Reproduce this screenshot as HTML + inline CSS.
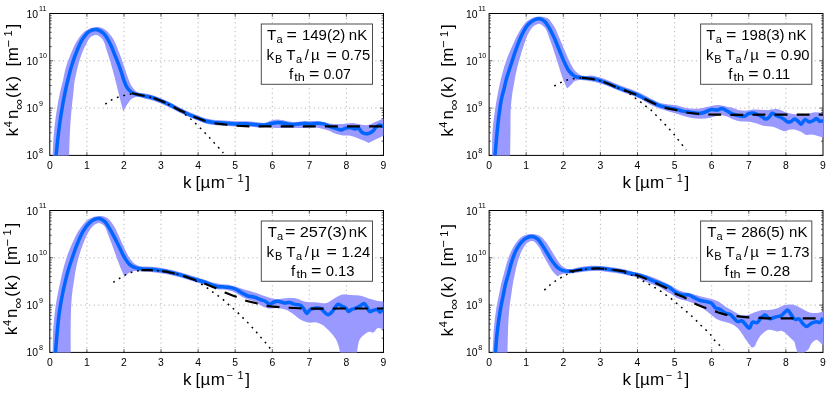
<!DOCTYPE html>
<html><head><meta charset="utf-8"><title>k4 n(k) momentum distributions</title>
<style>html,body{margin:0;padding:0;background:#fff}body{width:830px;height:398px;overflow:hidden;font-family:"Liberation Sans",sans-serif}svg{display:block;will-change:transform}</style></head>
<body>
<svg width="830" height="398" viewBox="0 0 830 398" font-family="'Liberation Sans', sans-serif" fill="#000">
<rect width="830" height="398" fill="#fff"/>
<defs>
<clipPath id="c0"><rect x="49.8" y="13.5" width="334.2" height="142.4"/></clipPath>
<clipPath id="c1"><rect x="489.1" y="13.5" width="334.4" height="142.4"/></clipPath>
<clipPath id="c2"><rect x="49.8" y="210.5" width="334.2" height="142.4"/></clipPath>
<clipPath id="c3"><rect x="489.1" y="210.5" width="334.4" height="142.4"/></clipPath>
</defs>
<g>
<path d="M86.9 155.4V13.5M124 155.4V13.5M161 155.4V13.5M198.1 155.4V13.5M235.2 155.4V13.5M272.3 155.4V13.5M309.3 155.4V13.5M346.4 155.4V13.5M49.8 60.8H383.5M49.8 108.1H383.5" stroke="#606060" stroke-width="0.55" stroke-dasharray="1 3.4" fill="none"/>
<rect x="49.8" y="13.5" width="333.7" height="141.9" fill="none" stroke="#000" stroke-width="1"/>
<path d="M86.9 155.4v-3.3M86.9 13.5v3.3M124 155.4v-3.3M124 13.5v3.3M161 155.4v-3.3M161 13.5v3.3M198.1 155.4v-3.3M198.1 13.5v3.3M235.2 155.4v-3.3M235.2 13.5v3.3M272.3 155.4v-3.3M272.3 13.5v3.3M309.3 155.4v-3.3M309.3 13.5v3.3M346.4 155.4v-3.3M346.4 13.5v3.3M49.8 13.5h3.3M383.5 13.5h-3.3M49.8 46.6h1.9M383.5 46.6h-1.9M49.8 38.2h1.9M383.5 38.2h-1.9M49.8 32.3h1.9M383.5 32.3h-1.9M49.8 27.7h1.9M383.5 27.7h-1.9M49.8 24h1.9M383.5 24h-1.9M49.8 20.8h1.9M383.5 20.8h-1.9M49.8 18.1h1.9M383.5 18.1h-1.9M49.8 15.7h1.9M383.5 15.7h-1.9M49.8 60.8h3.3M383.5 60.8h-3.3M49.8 93.9h1.9M383.5 93.9h-1.9M49.8 85.5h1.9M383.5 85.5h-1.9M49.8 79.6h1.9M383.5 79.6h-1.9M49.8 75h1.9M383.5 75h-1.9M49.8 71.3h1.9M383.5 71.3h-1.9M49.8 68.1h1.9M383.5 68.1h-1.9M49.8 65.4h1.9M383.5 65.4h-1.9M49.8 63h1.9M383.5 63h-1.9M49.8 108.1h3.3M383.5 108.1h-3.3M49.8 141.2h1.9M383.5 141.2h-1.9M49.8 132.8h1.9M383.5 132.8h-1.9M49.8 126.9h1.9M383.5 126.9h-1.9M49.8 122.3h1.9M383.5 122.3h-1.9M49.8 118.6h1.9M383.5 118.6h-1.9M49.8 115.4h1.9M383.5 115.4h-1.9M49.8 112.7h1.9M383.5 112.7h-1.9M49.8 110.3h1.9M383.5 110.3h-1.9M49.8 155.4h3.3M383.5 155.4h-3.3" stroke="#000" stroke-width="0.65" fill="none"/>
<g clip-path="url(#c0)">
<path d="M52.6 155.4C52.9 149 53.1 142.7 53.6 136.3C54.2 128.9 55 121.5 56.1 114.2C57.2 106.8 58.5 99.4 60.1 92.1C61 88 62.2 84.1 63.1 80C63.8 76.8 64.3 73.5 65.1 70.3C66.6 64.5 68.7 58.7 71.1 53.2C73.2 48.4 75.2 43.4 78.2 39.1C80.2 36.2 82.4 33.1 85.2 31.1C87.5 29.4 90.4 28.1 93.2 27.5C94.8 27.2 96.4 26.9 98 27C99.8 27.1 101.7 27.7 103.3 28.5C106.5 30 109 33.3 111.3 36.1C115.2 40.9 117 47.4 119.4 53.2C121.7 58.8 123.4 64.6 125.4 70.3C126.5 73.5 127.4 76.9 128.8 80C129.9 82.6 130.9 85.3 132.6 87.5C133.7 88.9 134.8 90.5 136.3 91.4C137.4 92.1 138.7 92.6 140 92.9C141.6 93.3 143.3 93.2 145 93.5C147.5 93.9 150.1 94.4 152.5 95.2C155.1 95.9 157.6 97 160.1 98C162.6 99 165.1 100.1 167.6 101.3C170.1 102.5 172.6 103.8 175.1 105.1C177.6 106.4 180.1 107.7 182.7 109C185.2 110.1 187.7 111.3 190.2 112.4C192.7 113.5 195.2 114.4 197.7 115.4C200.2 116.4 202.7 117.6 205.3 118.3C207.7 119 210.3 119.3 212.8 119.7C215.3 120 217.8 120.1 220.3 120.3C222.8 120.5 225.4 120.6 227.9 120.8C230.4 121 232.9 121.2 235.4 121.3C237.9 121.4 240.4 121.1 242.9 121.2C245.4 121.2 248 121.4 250.5 121.5C253 121.7 255.5 122 258 122.2C260.4 122.4 263 123.2 265.3 122.8C267.1 122.5 268.7 121.2 270.4 120.7C272.8 120 275.4 119.5 277.9 119.5C280.4 119.5 282.9 120.3 285.4 120.7C287.9 121.1 290.5 121.8 293 122C296.2 122.2 299.4 121.5 302.6 121.4C306.8 121.2 311 120.9 315.1 121.1C318.5 121.3 321.9 121.9 325.2 122.4C328.1 122.9 331 123.8 334 124.1C336.9 124.4 339.9 124.2 342.8 124.1C346.1 123.9 349.5 122.8 352.8 123C355.3 123.2 357.8 124.1 360.4 124.5C362.9 124.8 365.5 125.5 367.9 125.1C370.5 124.7 372.9 123 375.4 122C378.1 120.9 380.7 119.7 383.4 118.6L383.4 135.8C380.7 137.1 378.1 138.3 375.4 139.6C373.1 140.7 370.8 141.9 368.5 143C367 142.3 365.6 141.5 364.1 140.8C362 139.9 359.9 139.1 357.8 138.3C355.3 137.4 352.9 136.3 350.3 135.8C347.9 135.3 345.3 135.8 342.8 135.4C340.7 135.1 338.6 134.5 336.5 133.9C333.5 133 330.7 131.2 327.7 130.2C324.8 129.2 321.9 128.4 318.9 127.9C313.6 127 308 127.9 302.6 127.9C297.7 127.9 292.9 127.9 288 127.9C283.8 127.9 279.6 128.1 275.4 127.9C272 127.8 268.7 127.1 265.3 127.1C262.9 127.1 260.4 127.5 258 127.4C255.5 127.4 253 126.9 250.5 126.7C248 126.6 245.4 126.4 242.9 126.4C240.4 126.3 237.9 126.6 235.4 126.5C232.9 126.4 230.4 126.2 227.9 126C225.4 125.8 222.8 125.7 220.3 125.5C217.8 125.3 215.3 125.2 212.8 124.9C210.3 124.5 207.7 124.2 205.3 123.5C202.7 122.8 200.2 121.6 197.7 120.6C195.2 119.6 192.7 118.7 190.2 117.6C187.7 116.5 185.2 115.3 182.7 114.1C180.1 112.9 177.6 111.6 175.1 110.3C172.6 109 170.1 107.7 167.6 106.5C165.1 105.3 162.6 104.2 160.1 103.2C157.6 102.2 155.1 101.1 152.5 100.4C150.1 99.6 147.5 99.4 145 98.7C143.7 98.3 142.4 97.7 141 97.4C139.9 97.1 138.7 96.7 137.6 96.7C135.9 96.7 134.1 97.4 132.6 98.2C130.5 99.4 129 101.9 127.5 103.9C125.8 106.2 124.6 109 123.2 111.5C121.9 106.3 120.6 101.2 119.3 96C118 90.7 116.7 85.3 115.3 80C114.6 77.4 114 74.9 113.3 72.3C111.5 65.6 109.7 58.7 107.3 52.2C105.5 47.4 105 41.4 101.3 38.1C100 36.9 98.4 35.4 96.8 35.1C95.4 34.9 93.5 35.5 92.2 36.1C89.3 37.4 87.9 41.3 86.2 44.2C83.6 48.5 81.9 53.4 80.2 58.2C78.2 64.1 77 70.2 75.6 76.3C75.3 77.5 75 78.8 74.8 80C74 84 73.9 88.1 73.5 92.1C72.7 99.5 71.7 106.8 71.1 114.2C70.5 121.6 70 128.9 69.7 136.3C69.4 142.7 69.3 149 69.1 155.4Z" fill="#9999ff"/>
<path d="M56.1 155.4C56.8 149 57.3 142.7 58.1 136.3C59 128.9 59.9 121.5 61.1 114.2C62.3 106.8 63.6 99.4 65.1 92.1C66 87.7 67 83.3 68.1 79C69.3 74.1 70.6 69.1 72.1 64.3C73.6 59.5 75.2 54.8 77.2 50.2C79 46.1 80.6 41.7 83.2 38.1C84.9 35.7 86.7 32.9 89.2 31.5C91.2 30.3 93.9 29.3 96.2 29.5C98.7 29.7 101.3 31.5 103.3 33.1C106 35.3 107.5 39 109.3 42.2C111.8 46.6 113.4 51.5 115.3 56.2C117.5 61.5 119.6 66.9 121.4 72.3C122.2 74.8 122.9 77.5 123.8 80C124.9 82.8 125.7 85.9 127.5 88.3C128.9 90.1 130.6 91.9 132.6 93C134.4 94 136.7 94.3 138.8 94.8C140.9 95.3 143 95.7 145.1 96.1C147.6 96.6 150.2 97.1 152.7 97.8C155.7 98.7 158.6 99.9 161.5 101.1C164.5 102.3 167.4 103.7 170.3 105.1C173.3 106.6 176.1 108.3 179 109.8C181.9 111.3 184.8 112.7 187.8 114C190.7 115.3 193.7 116.4 196.6 117.6C199.5 118.8 202.4 120.2 205.4 121C208.3 121.8 211.3 122.1 214.2 122.5C217.8 122.9 221.5 123 225.1 123.2C228.5 123.4 231.8 123.8 235.2 123.9C239 124 242.7 123.5 246.5 123.7C249.8 123.9 253.2 124.6 256.5 124.8C259.4 125 262.4 125.3 265.3 125C267.9 124.7 270.3 123.7 272.9 123.2C274.6 122.9 276.2 122.5 277.9 122.4C280.4 122.3 282.9 123.3 285.4 123.6C288.3 124 291.3 124.7 294.2 124.5C295.3 124.4 296.4 124.2 297.5 124.1C300 123.8 302.6 123 305.1 123.2C306.8 123.3 308.4 124 310.1 124.1C312.6 124.2 315.1 123.2 317.6 123.2C319.7 123.2 321.9 123.4 323.9 123.9C326.1 124.5 328.1 125.8 330.2 126.6C332.3 127.4 334.4 128 336.5 128.6C338.2 129.1 339.9 130.1 341.5 129.9C342.8 129.8 344 128.7 345.3 128.3C346.9 127.8 348.7 127.5 350.3 127.6C352 127.7 353.6 128.9 355.3 128.9C356.4 128.9 357.6 128.1 358.5 128.3C359.9 128.6 360.3 131.1 361.6 132C362.7 132.8 364.1 133.5 365.4 133.7C366.6 133.9 367.9 133.6 369.1 133.3C370.5 132.9 371.8 132.1 372.9 131.2C374.2 130.1 374.8 128.1 376.1 127C377 126.2 378.1 125.3 379.2 125.1C380.5 124.9 382 126 383.4 126.4" fill="none" stroke="#0066ff" stroke-width="3.5" stroke-linejoin="round"/>
<path d="M105.3 104.1C107.3 102.8 109.2 101.2 111.3 100.1C113.2 99.1 115.3 98.3 117.3 97.5C119.9 96.5 122.7 95.7 125.4 95.1C128 94.5 130.7 93.9 133.4 93.9C135.6 93.9 137.8 94.2 140 94.6C141.7 94.9 143.4 95.5 145.1 96C147.6 96.7 150.2 97.2 152.7 98C155.7 98.9 158.6 100.1 161.5 101.3C164.5 102.6 167.4 104 170.3 105.5C173.3 107 176.2 108.6 179 110.4C181.3 111.8 183.5 113.4 185.7 115C187.4 116.3 189.1 117.6 190.7 119C192.4 120.5 194.1 122 195.7 123.6C197.3 125.1 198.8 126.7 200.4 128.2C202 129.8 203.5 131.4 205.1 133C206.7 134.6 208.3 136.2 209.8 137.9C211.3 139.5 212.7 141.3 214.2 142.9C215.7 144.5 217.2 146.1 218.7 147.7C220.3 149.4 221.8 151.2 223.3 153" fill="none" stroke="#000" stroke-width="1.5" stroke-dasharray="1.8 4.85" stroke-dashoffset="0"/>
<path d="M131.9 93.2C134.2 93.7 136.5 94.3 138.8 94.8C140.9 95.3 143 95.7 145.1 96.1C147.6 96.6 150.2 97.1 152.7 97.8C155.7 98.7 158.6 99.9 161.5 101.1C164.5 102.3 167.4 103.7 170.3 105.1C173.3 106.6 176.1 108.3 179 109.8C181.9 111.3 184.8 112.7 187.8 114C190.7 115.3 193.6 116.6 196.6 117.8C199.5 119 202.4 120.1 205.4 121C208.3 121.9 211.2 122.6 214.2 123.2C217.8 123.9 221.4 124.1 225 124.5C228.3 124.9 231.7 125.3 235 125.6C238.3 125.9 241.7 126.1 245 126.2C250 126.4 255 126.4 260 126.4C273.3 126.5 286.7 126.4 300 126.4C327.8 126.4 355.6 126.4 383.4 126.4" fill="none" stroke="#000" stroke-width="2.2" stroke-dasharray="12.9 9.2" stroke-dashoffset="0"/>
</g>
<g font-size="10.4">
<text x="49.8" y="168.6" text-anchor="middle">0</text>
<text x="86.9" y="168.6" text-anchor="middle">1</text>
<text x="124" y="168.6" text-anchor="middle">2</text>
<text x="161" y="168.6" text-anchor="middle">3</text>
<text x="198.1" y="168.6" text-anchor="middle">4</text>
<text x="235.2" y="168.6" text-anchor="middle">5</text>
<text x="272.3" y="168.6" text-anchor="middle">6</text>
<text x="309.3" y="168.6" text-anchor="middle">7</text>
<text x="346.4" y="168.6" text-anchor="middle">8</text>
<text x="383.5" y="168.6" text-anchor="middle">9</text>
<text x="26.6" y="17.5">10<tspan font-size="7.2" dy="-6.5" dx="0.9">11</tspan></text>
<text x="26.6" y="64.8">10<tspan font-size="7.2" dy="-6.5" dx="0.9">10</tspan></text>
<text x="26.6" y="112.1">10<tspan font-size="7.2" dy="-6.5" dx="0.9">9</tspan></text>
<text x="26.6" y="159.4">10<tspan font-size="7.2" dy="-6.5" dx="0.9">8</tspan></text>
</g>
<g font-size="17">
<text x="183" y="188">k</text>
<text x="195.5" y="188">[</text>
<text x="200.5" y="188">µ</text>
<text x="210.7" y="188">m</text>
<text x="226.4" y="181.7" font-size="11">−</text>
<text x="237.4" y="181.7" font-size="11">1</text>
<text x="245.2" y="188">]</text>
</g>
<text transform="translate(18 136.4) rotate(-90)" font-size="17">k</text>
<text transform="translate(12.1 127.2) rotate(-90)" font-size="11">4</text>
<text transform="translate(18 119.1) rotate(-90)" font-size="17">n</text>
<text transform="translate(23.2 109.7) rotate(-90)" font-size="13" textLength="10.9" lengthAdjust="spacingAndGlyphs">∞</text>
<text transform="translate(18 97.9) rotate(-90)" font-size="17">(</text>
<text transform="translate(18 91.5) rotate(-90)" font-size="17">k</text>
<text transform="translate(18 81.4) rotate(-90)" font-size="17">)</text>
<text transform="translate(18 66.4) rotate(-90)" font-size="17">[</text>
<text transform="translate(18 61.2) rotate(-90)" font-size="17">m</text>
<text transform="translate(13 47.6) rotate(-90)" font-size="12.5">−</text>
<text transform="translate(12.4 36.6) rotate(-90)" font-size="11">1</text>
<text transform="translate(18 28.6) rotate(-90)" font-size="17">]</text>
<rect x="261.3" y="24" width="111.2" height="60.3" fill="#fff" stroke="#4d4d4d" stroke-width="1"/>
<g font-size="15">
<text x="266.9" y="40.1">T</text>
<text x="276.5" y="42.5" font-size="11">a</text>
<text x="286.6" y="40.1" textLength="10.4" lengthAdjust="spacingAndGlyphs">=</text>
<text x="301.9" y="40.1" textLength="43.4" lengthAdjust="spacingAndGlyphs">149(2)</text>
<text x="348.8" y="40.1">nK</text>
<text x="266.6" y="60.4">k</text>
<text x="274.9" y="62.8" font-size="11">B</text>
<text x="286.2" y="60.4">T</text>
<text x="296.1" y="62.8" font-size="11">a</text>
<text x="304.8" y="60.4">/</text>
<text x="310.9" y="60.4">µ</text>
<text x="326.6" y="60.4" textLength="10.4" lengthAdjust="spacingAndGlyphs">=</text>
<text x="341.5" y="60.4" textLength="28.8" lengthAdjust="spacingAndGlyphs">0.75</text>
<text x="288.9" y="78.8">f</text>
<text x="294.3" y="81.2" font-size="11" textLength="10.6" lengthAdjust="spacingAndGlyphs">th</text>
<text x="308.9" y="78.8" textLength="10.4" lengthAdjust="spacingAndGlyphs">=</text>
<text x="323.5" y="78.8" textLength="27.4" lengthAdjust="spacingAndGlyphs">0.07</text>
</g>
</g>
<g>
<path d="M526.2 155.4V13.5M563.3 155.4V13.5M600.4 155.4V13.5M637.5 155.4V13.5M674.6 155.4V13.5M711.7 155.4V13.5M748.8 155.4V13.5M785.9 155.4V13.5M489.1 60.8H823M489.1 108.1H823" stroke="#606060" stroke-width="0.55" stroke-dasharray="1 3.4" fill="none"/>
<rect x="489.1" y="13.5" width="333.9" height="141.9" fill="none" stroke="#000" stroke-width="1"/>
<path d="M526.2 155.4v-3.3M526.2 13.5v3.3M563.3 155.4v-3.3M563.3 13.5v3.3M600.4 155.4v-3.3M600.4 13.5v3.3M637.5 155.4v-3.3M637.5 13.5v3.3M674.6 155.4v-3.3M674.6 13.5v3.3M711.7 155.4v-3.3M711.7 13.5v3.3M748.8 155.4v-3.3M748.8 13.5v3.3M785.9 155.4v-3.3M785.9 13.5v3.3M489.1 13.5h3.3M823 13.5h-3.3M489.1 46.6h1.9M823 46.6h-1.9M489.1 38.2h1.9M823 38.2h-1.9M489.1 32.3h1.9M823 32.3h-1.9M489.1 27.7h1.9M823 27.7h-1.9M489.1 24h1.9M823 24h-1.9M489.1 20.8h1.9M823 20.8h-1.9M489.1 18.1h1.9M823 18.1h-1.9M489.1 15.7h1.9M823 15.7h-1.9M489.1 60.8h3.3M823 60.8h-3.3M489.1 93.9h1.9M823 93.9h-1.9M489.1 85.5h1.9M823 85.5h-1.9M489.1 79.6h1.9M823 79.6h-1.9M489.1 75h1.9M823 75h-1.9M489.1 71.3h1.9M823 71.3h-1.9M489.1 68.1h1.9M823 68.1h-1.9M489.1 65.4h1.9M823 65.4h-1.9M489.1 63h1.9M823 63h-1.9M489.1 108.1h3.3M823 108.1h-3.3M489.1 141.2h1.9M823 141.2h-1.9M489.1 132.8h1.9M823 132.8h-1.9M489.1 126.9h1.9M823 126.9h-1.9M489.1 122.3h1.9M823 122.3h-1.9M489.1 118.6h1.9M823 118.6h-1.9M489.1 115.4h1.9M823 115.4h-1.9M489.1 112.7h1.9M823 112.7h-1.9M489.1 110.3h1.9M823 110.3h-1.9M489.1 155.4h3.3M823 155.4h-3.3" stroke="#000" stroke-width="0.65" fill="none"/>
<g clip-path="url(#c1)">
<path d="M492 155.4C492.2 147 492 138.6 492.6 130.2C493.1 123.5 494 116.8 495 110.1C495.9 104.1 496.9 98.1 498.1 92.1C498.9 88.1 499.8 84 500.7 80C501.1 78.1 501.6 76.2 502.1 74.3C503.5 68.9 505.1 63.5 507.1 58.2C508.9 53.4 511 48.8 513.1 44.2C515.3 39.4 517.3 34.5 520.2 30.1C522.3 26.9 524.3 23.4 527.2 21.1C529.2 19.5 531.7 18 534.2 17.2C536.1 16.6 538.3 16.3 540.3 16.4C542.7 16.5 545.3 16.9 547.3 18C549.9 19.4 551.6 22.6 553.3 25.1C556 29 557.4 33.7 559.4 38.1C561.5 42.8 563.3 47.5 565.4 52.2C567 55.9 568.5 59.7 570.4 63.3C571.9 66.1 573.2 69.1 575.4 71.3C576.9 72.8 578.6 74.2 580.5 75C582.2 75.7 584.2 75.9 586 75.9C587.7 75.9 589.3 75.3 591 75.4C593.6 75.4 596.2 76.4 598.7 77.1C601.3 77.9 603.9 78.8 606.4 79.7C609 80.7 611.6 81.8 614.1 82.9C616.7 83.9 619.3 84.9 621.9 85.9C624.4 86.9 627 87.7 629.6 88.7C632.2 89.7 634.8 90.6 637.3 91.7C639.9 92.9 642.5 94.2 645 95.5C646.7 96.4 648.3 97.3 650 98.2C654.1 100.3 658.2 102.5 662.6 103.6C666.6 104.7 671 104.4 675.1 105.1C679.3 105.9 683.4 107.6 687.7 108.2C691.8 108.8 696.2 109.1 700.3 108.6C703.2 108.2 706.1 107.2 709 106.6C711.9 106 714.9 105.1 717.8 105.1C721.2 105.1 724.5 106.4 727.9 107C729.4 107.3 730.9 107.4 732.3 107.8C734.5 108.3 736.4 109.6 738.6 110.1C740.6 110.5 742.7 110.7 744.8 110.7C747.7 110.7 750.7 109.7 753.6 109.5C757.8 109.2 762 110.2 766.2 110.1C770 110 773.9 108.5 777.5 109.1C780.5 109.6 783.3 111.7 786.3 112.6C789.6 113.6 793 114.3 796.4 114.5C799.7 114.7 803.1 114.4 806.4 113.9C808.9 113.6 811.4 112.6 813.9 112.4C817 112.2 820.2 112.9 823.4 113.2L823.4 137.7C821.5 137.1 819.6 136.4 817.7 135.9C815.6 135.4 813.5 134.7 811.4 134.6C809.7 134.5 808 135.3 806.4 135C804.6 134.6 803.1 133 801.4 132.1C799.8 131.3 798.1 130.3 796.4 129.9C794.4 129.4 792.1 129.3 790.1 129.6C788.4 129.8 786.7 131.2 785 131.2C783.8 131.2 782.5 130.6 781.3 130.2C778.7 129.4 776.3 127.9 773.7 127.1C770.1 126 766.1 126.2 762.4 125.4C758.6 124.5 755 122.6 751.1 122C747.8 121.5 744.4 121.9 741.1 121.4C738.5 121 735.9 120.4 733.5 119.5C731.6 118.8 729.8 117.4 727.9 116.7C725.5 115.8 722.9 115.2 720.4 115.2C717 115.2 713.7 117.1 710.3 117.7C707 118.3 703.6 118.7 700.3 118.7C696.1 118.7 691.8 117.9 687.7 117C683.4 116.1 679.3 114.6 675.1 113.3C670.9 112.1 666.7 110.9 662.6 109.5C658.3 108 654 106.7 650 104.5C648.3 103.6 646.7 102.4 645 101.4C642.5 100 639.9 98.8 637.3 97.6C634.8 96.5 632.2 95.6 629.6 94.6C627 93.6 624.4 92.8 621.9 91.8C619.3 90.8 616.7 89.8 614.1 88.8C611.6 87.7 609 86.6 606.4 85.6C603.9 84.7 601.3 83.8 598.7 83C596.2 82.3 593.6 81.8 591 81.3C589.3 80.9 587.7 80.6 586 80.4C584.2 80.2 582.3 79.8 580.5 79.9C578.8 80 576.9 80.1 575.4 80.8C573.8 81.5 572.7 83.2 571.4 84.4C569.9 85.7 568.5 87.1 567 88.4C565.8 85.7 564.5 83 563.4 80.3C561.8 76.4 560.7 72.3 559.4 68.3C557.7 62.9 556.1 57.5 554.3 52.2C552.7 47.5 551.2 42.7 549.3 38.1C547.8 34.4 547.1 29.8 544.3 27.1C542.9 25.7 541.1 23.9 539.3 23.7C537.7 23.6 535.7 24.7 534.2 25.7C532 27.1 530.6 29.8 529.2 32.1C526.9 35.8 525.7 40.1 524.2 44.2C522.3 49.4 520.7 54.8 519.2 60.2C517.7 65.5 516.3 70.9 515.3 76.3C515.1 77.5 514.9 78.8 514.7 80C514 84 513.1 88 512.5 92.1C511.6 98.1 511 104.1 510.7 110.1C510.3 116.8 510.6 123.5 510.5 130.2C510.4 138.6 510.2 147 510.1 155.4Z" fill="#9999ff"/>
<path d="M495 155.4C495.6 149 496.1 142.7 496.7 136.3C497.4 128.9 498.1 121.5 499.1 114.2C499.9 108.1 500.6 102 502.1 96.1C502.6 94.1 503.3 92 503.8 90C504.8 86.1 505.5 82.2 506.6 78.3C507.9 73.6 509.6 69 511.1 64.3C512.7 59.3 514.3 54.2 516.1 49.2C518 44.1 519.7 38.9 522.2 34.1C524 30.8 525.6 27.1 528.2 24.5C529.9 22.8 531.9 21 534.2 20C535.8 19.3 537.7 18.6 539.3 18.8C541 19 542.9 20.1 544.3 21.1C546.5 22.7 547.8 25.7 549.3 28.1C551.2 31.3 552.7 34.7 554.3 38.1C556.1 42.1 557.7 46.2 559.4 50.2C561.1 54.2 562.5 58.4 564.4 62.3C565.9 65.4 567.2 68.9 569.4 71.5C570.9 73.3 572.7 75.1 574.7 76.2C576.8 77.3 579.5 77.4 582 77.8C585.1 78.3 588.3 78.1 591.4 78.6C594.4 79.1 597.3 79.8 600.2 80.7C603.1 81.6 606 82.7 608.9 83.8C611.9 85 614.7 86.4 617.7 87.6C620.6 88.8 623.6 89.7 626.5 90.8C629.4 91.8 632.4 92.7 635.3 93.9C638.3 95.2 641.1 96.9 644.1 98.3C647 99.7 650 100.9 652.9 102.4C654.4 103.2 655.9 104.1 657.5 104.8C660.3 106 663.3 106.7 666.3 107.4C669.2 108.1 672.2 108.2 675.1 108.9C677.7 109.5 680.1 110.5 682.7 111.1C685.6 111.7 688.6 112 691.5 112.4C694.4 112.8 697.4 113.7 700.3 113.3C702 113.1 703.7 112.5 705.3 112C707.4 111.3 709.4 109.7 711.6 109.5C713.2 109.4 715 110.2 716.6 110.1C718.5 110 720.4 108.4 722.2 108.6C723.7 108.8 725.1 110 726.6 110.8C728.5 111.8 730.3 113.1 732.3 113.9C734.7 114.9 737.3 115.5 739.8 115.8C741.4 116 743.3 116.5 744.8 116.1C746.2 115.7 747.2 114.1 748.6 113.6C749.8 113.2 751.1 113 752.4 113C754.1 113.1 755.8 113.9 757.4 114.5C759.1 115.2 760.8 116.1 762.4 117C763.5 117.6 764.5 119 765.6 119.1C766.8 119.2 768.2 117.9 769.3 117C770.5 116 771 113.3 772.2 113.2C773.2 113.1 774.4 114.5 775.6 115.1C777 115.8 778.6 116.3 780 117C781.5 117.7 783 118.6 784.4 119.5C785.5 120.3 786.4 121.7 787.6 122C788.7 122.3 790.2 121.9 791.3 121.4C792.5 120.9 793.4 119 794.5 118.9C795.7 118.8 797.1 120.5 798.2 121.4C799.2 122.2 800.2 124 801.1 124.2C802.5 124.4 803.5 119.6 805.1 119.5C806.4 119.4 808 121.9 809.5 122C810.9 122.1 812.5 120.9 813.9 120.2C814.8 119.7 815.7 118.6 816.5 118.6C817.6 118.6 818.4 120.9 819.6 121.2C820.6 121.4 821.8 120.9 822.9 120.8" fill="none" stroke="#0066ff" stroke-width="3.5" stroke-linejoin="round"/>
<path d="M554.3 86C556.3 84.9 558.3 83.8 560.4 82.8C562.4 81.9 564.3 81 566.4 80.3C568.7 79.6 571 79.1 573.4 78.7C576.1 78.2 578.8 77.7 581.5 77.7C584.8 77.6 588.1 78.2 591.4 78.8C594.4 79.3 597.3 80 600.2 80.9C603.1 81.8 606 82.9 608.9 84C611.9 85.2 614.8 86.5 617.7 87.8C620.6 89.1 623.7 90.1 626.5 91.7C627.9 92.5 629.2 93.4 630.5 94.3C632 95.4 633.3 96.6 634.7 97.7C636.6 99.1 638.5 100.4 640.4 101.8C642.1 103.1 643.7 104.5 645.4 105.8C647.2 107.2 649 108.4 650.7 109.9C652.3 111.3 653.8 113 655.3 114.5C656.9 116.1 658.5 117.7 660.1 119.3C661.7 120.9 663.2 122.5 664.7 124.1C666.3 125.8 667.8 127.4 669.3 129.1C670.8 130.8 672.3 132.4 673.7 134.1C675.1 135.8 676.5 137.6 677.9 139.4C679.3 141.2 680.7 142.9 682.1 144.7C683.5 146.5 684.8 148.3 686.2 150.1" fill="none" stroke="#000" stroke-width="1.5" stroke-dasharray="1.8 4.85" stroke-dashoffset="0"/>
<path d="M582 77.8C585.1 78.1 588.3 78.3 591.4 78.8C594.4 79.3 597.3 80 600.2 80.9C603.1 81.8 606 82.9 608.9 84C611.9 85.2 614.7 86.6 617.7 87.8C620.6 89 623.6 89.9 626.5 91C629.4 92.1 632.4 93.1 635.3 94.3C638.3 95.6 641.2 97.2 644.1 98.7C647 100.1 649.9 101.7 652.9 103C656.5 104.6 660.1 106.2 663.8 107.4C667.9 108.7 672.2 109.1 676.4 110.1C679.5 110.8 682.6 111.8 685.8 112.4C689.9 113.2 694.2 113.4 698.4 113.8C701.6 114.1 704.8 114.3 708 114.5C712 114.7 716 114.6 720 114.7C736.7 114.9 753.3 114.7 770 114.7C787.7 114.7 805.3 114.7 823 114.7" fill="none" stroke="#000" stroke-width="2.2" stroke-dasharray="12.9 9.2" stroke-dashoffset="0"/>
</g>
<g font-size="10.4">
<text x="489.1" y="168.6" text-anchor="middle">0</text>
<text x="526.2" y="168.6" text-anchor="middle">1</text>
<text x="563.3" y="168.6" text-anchor="middle">2</text>
<text x="600.4" y="168.6" text-anchor="middle">3</text>
<text x="637.5" y="168.6" text-anchor="middle">4</text>
<text x="674.6" y="168.6" text-anchor="middle">5</text>
<text x="711.7" y="168.6" text-anchor="middle">6</text>
<text x="748.8" y="168.6" text-anchor="middle">7</text>
<text x="785.9" y="168.6" text-anchor="middle">8</text>
<text x="823" y="168.6" text-anchor="middle">9</text>
<text x="465.9" y="17.5">10<tspan font-size="7.2" dy="-6.5" dx="0.9">11</tspan></text>
<text x="465.9" y="64.8">10<tspan font-size="7.2" dy="-6.5" dx="0.9">10</tspan></text>
<text x="465.9" y="112.1">10<tspan font-size="7.2" dy="-6.5" dx="0.9">9</tspan></text>
<text x="465.9" y="159.4">10<tspan font-size="7.2" dy="-6.5" dx="0.9">8</tspan></text>
</g>
<g font-size="17">
<text x="622.4" y="188">k</text>
<text x="634.9" y="188">[</text>
<text x="639.9" y="188">µ</text>
<text x="650.1" y="188">m</text>
<text x="665.8" y="181.7" font-size="11">−</text>
<text x="676.8" y="181.7" font-size="11">1</text>
<text x="684.6" y="188">]</text>
</g>
<text transform="translate(453.2 136.8) rotate(-90)" font-size="17">k</text>
<text transform="translate(447.3 127.7) rotate(-90)" font-size="11">4</text>
<text transform="translate(453.2 119.5) rotate(-90)" font-size="17">n</text>
<text transform="translate(458.4 110.2) rotate(-90)" font-size="13" textLength="10.9" lengthAdjust="spacingAndGlyphs">∞</text>
<text transform="translate(453.2 98.3) rotate(-90)" font-size="17">(</text>
<text transform="translate(453.2 92) rotate(-90)" font-size="17">k</text>
<text transform="translate(453.2 81.8) rotate(-90)" font-size="17">)</text>
<text transform="translate(453.2 66.8) rotate(-90)" font-size="17">[</text>
<text transform="translate(453.2 61.7) rotate(-90)" font-size="17">m</text>
<text transform="translate(448.2 48) rotate(-90)" font-size="12.5">−</text>
<text transform="translate(447.6 37) rotate(-90)" font-size="11">1</text>
<text transform="translate(453.2 29) rotate(-90)" font-size="17">]</text>
<rect x="700.6" y="24" width="111.2" height="60.3" fill="#fff" stroke="#4d4d4d" stroke-width="1"/>
<g font-size="15">
<text x="706.2" y="40.1">T</text>
<text x="715.8" y="42.5" font-size="11">a</text>
<text x="725.9" y="40.1" textLength="10.4" lengthAdjust="spacingAndGlyphs">=</text>
<text x="741.2" y="40.1" textLength="43.4" lengthAdjust="spacingAndGlyphs">198(3)</text>
<text x="788.1" y="40.1">nK</text>
<text x="705.9" y="60.4">k</text>
<text x="714.2" y="62.8" font-size="11">B</text>
<text x="725.5" y="60.4">T</text>
<text x="735.4" y="62.8" font-size="11">a</text>
<text x="744.1" y="60.4">/</text>
<text x="750.2" y="60.4">µ</text>
<text x="765.9" y="60.4" textLength="10.4" lengthAdjust="spacingAndGlyphs">=</text>
<text x="780.8" y="60.4" textLength="28.8" lengthAdjust="spacingAndGlyphs">0.90</text>
<text x="728.2" y="78.8">f</text>
<text x="733.6" y="81.2" font-size="11" textLength="10.6" lengthAdjust="spacingAndGlyphs">th</text>
<text x="748.2" y="78.8" textLength="10.4" lengthAdjust="spacingAndGlyphs">=</text>
<text x="762.8" y="78.8" textLength="27.4" lengthAdjust="spacingAndGlyphs">0.11</text>
</g>
</g>
<g>
<path d="M86.9 352.4V210.5M124 352.4V210.5M161 352.4V210.5M198.1 352.4V210.5M235.2 352.4V210.5M272.3 352.4V210.5M309.3 352.4V210.5M346.4 352.4V210.5M49.8 257.8H383.5M49.8 305.1H383.5" stroke="#606060" stroke-width="0.55" stroke-dasharray="1 3.4" fill="none"/>
<rect x="49.8" y="210.5" width="333.7" height="141.9" fill="none" stroke="#000" stroke-width="1"/>
<path d="M86.9 352.4v-3.3M86.9 210.5v3.3M124 352.4v-3.3M124 210.5v3.3M161 352.4v-3.3M161 210.5v3.3M198.1 352.4v-3.3M198.1 210.5v3.3M235.2 352.4v-3.3M235.2 210.5v3.3M272.3 352.4v-3.3M272.3 210.5v3.3M309.3 352.4v-3.3M309.3 210.5v3.3M346.4 352.4v-3.3M346.4 210.5v3.3M49.8 210.5h3.3M383.5 210.5h-3.3M49.8 243.6h1.9M383.5 243.6h-1.9M49.8 235.2h1.9M383.5 235.2h-1.9M49.8 229.3h1.9M383.5 229.3h-1.9M49.8 224.7h1.9M383.5 224.7h-1.9M49.8 221h1.9M383.5 221h-1.9M49.8 217.8h1.9M383.5 217.8h-1.9M49.8 215.1h1.9M383.5 215.1h-1.9M49.8 212.7h1.9M383.5 212.7h-1.9M49.8 257.8h3.3M383.5 257.8h-3.3M49.8 290.9h1.9M383.5 290.9h-1.9M49.8 282.5h1.9M383.5 282.5h-1.9M49.8 276.6h1.9M383.5 276.6h-1.9M49.8 272h1.9M383.5 272h-1.9M49.8 268.3h1.9M383.5 268.3h-1.9M49.8 265.1h1.9M383.5 265.1h-1.9M49.8 262.4h1.9M383.5 262.4h-1.9M49.8 260h1.9M383.5 260h-1.9M49.8 305.1h3.3M383.5 305.1h-3.3M49.8 338.2h1.9M383.5 338.2h-1.9M49.8 329.8h1.9M383.5 329.8h-1.9M49.8 323.9h1.9M383.5 323.9h-1.9M49.8 319.3h1.9M383.5 319.3h-1.9M49.8 315.6h1.9M383.5 315.6h-1.9M49.8 312.4h1.9M383.5 312.4h-1.9M49.8 309.7h1.9M383.5 309.7h-1.9M49.8 307.3h1.9M383.5 307.3h-1.9M49.8 352.4h3.3M383.5 352.4h-3.3" stroke="#000" stroke-width="0.65" fill="none"/>
<g clip-path="url(#c2)">
<path d="M52.6 352.5C52.9 344.1 52.8 335.6 53.4 327.2C53.9 320.5 54.5 313.8 55.5 307.1C56.4 301.1 57.4 295.1 58.7 289.1C59 287.7 59.3 286.4 59.6 285C60.6 280.7 61.4 276.3 62.5 272C64.1 265.7 65.8 259.3 68.1 253.2C69.9 248.4 71.8 243.7 74.1 239.2C76.2 235 78.4 230.8 81.2 227.1C83.3 224.4 85.4 221.4 88.2 219.5C90.3 218.1 92.8 217 95.2 216.5C97.2 216.1 99.3 215.9 101.3 216.1C103.4 216.4 105.6 217.1 107.3 218.1C109.8 219.6 111.5 222.6 113.3 225.1C115.9 228.8 117.4 233.1 119.4 237.2C121.5 241.5 123.2 246 125.4 250.2C127 253.3 128.3 256.6 130.4 259.3C131.9 261.1 133.4 263.1 135.4 264.3C137.2 265.4 139.4 266.2 141.5 266.5C143.3 266.8 145.2 266.4 147 266.5C149.5 266.6 152 266.8 154.4 267.1C156.9 267.4 159.4 267.7 161.8 268.1C164.3 268.5 166.8 269 169.2 269.5C171.7 270 174.2 270.6 176.7 271.3C179.2 271.9 181.6 272.6 184.1 273.4C186.6 274.1 189 274.9 191.5 275.7C194 276.4 196.4 277.2 198.9 277.9C201.4 278.7 203.9 279.4 206.3 280.2C208.8 281.1 211.2 282.2 213.8 282.8C216.2 283.5 218.7 283.9 221.2 284.2C223.6 284.5 226.2 284.4 228.6 284.8C231.1 285.2 233.5 286.1 236 286.8C239.1 287.7 242.1 288.8 245.1 289.8C249.3 291.1 253.6 292.1 257.7 293.5C260.7 294.5 263.5 295.9 266.5 296.8C269.8 297.8 273.1 298.9 276.5 299.1C279.4 299.3 282.4 298.4 285.3 298.3C289 298.1 292.8 297.7 296.4 298.4C299.6 299 302.4 301.1 305.6 301.8C309.4 302.6 313.4 302.1 317.3 302.4C320.4 302.6 323.6 303.8 326.5 303.1C329.3 302.4 331.6 299.9 334.3 298.5C336.9 297.1 339.4 295.2 342.2 294.6C345.1 294 348.3 294.8 351.3 295C354.8 295.2 358.3 295.2 361.7 295.9C364.8 296.6 367.8 298.1 370.9 299.1C373.1 299.8 375.2 300.7 377.4 301.1C379.4 301.4 381.4 301.4 383.4 301.5L383.4 329.2C381.4 328.9 379.2 327.7 377.5 328.2C375.8 328.7 375 332 373.3 332.4C372.1 332.7 370.4 331.5 369.1 331.7C367.2 331.9 365.4 333.7 363.8 335C362.5 336.1 361 337.3 360.1 338.7C358.8 340.7 358.5 343.3 358 345.6C357.5 347.9 357.3 350.2 357 352.5C351.4 352.5 345.7 352.5 340.1 352.5C339.6 350.2 339.2 347.8 338.5 345.6C337.7 343.1 336.7 340.5 335.3 338.2C334.1 336.3 332.6 334.6 331.1 332.9C329.8 331.4 328.3 330.1 326.9 328.7C325.5 327.4 324.2 326 322.7 325C320.8 323.8 318.5 322.8 316.3 322.4C313.7 321.9 310.8 323.1 308.2 322.6C305.5 322.1 302.8 320.8 300.4 319.5C297.7 318 295.5 315.5 292.9 313.8C290.5 312.2 288 310.6 285.3 309.6C282.5 308.6 279.5 308.1 276.5 307.9C273.6 307.7 270.5 308.9 267.7 308.3C266 307.9 264.3 307.1 262.7 306.4C260.1 305.2 257.8 303.3 255.2 302C252 300.4 248.4 299.7 245.1 298.3C240.8 296.4 237.1 292.9 232.6 291.4C230.5 290.7 228.2 290.1 226 289.7C223.4 289.3 220.7 289.8 218.1 289.3C215.4 288.8 212.8 287.7 210.2 286.9C207.5 286 205 284.9 202.3 284.1C199.7 283.3 197 282.6 194.4 281.8C191.8 281 189.1 280.1 186.5 279.3C183.9 278.5 181.3 277.7 178.6 277C176 276.3 173.3 275.6 170.7 275C168.1 274.5 165.4 273.9 162.8 273.5C160.2 273 157.5 272.6 154.9 272.4C152.3 272.1 149.6 271.9 147 271.7C144.3 271.5 141.7 271.2 139 271.2C137.1 271.2 135.2 270.9 133.4 271.3C131.7 271.7 129.9 272.4 128.4 273.3C127 274.1 125.7 275.3 124.4 276.3C123.7 275 123 273.6 122.4 272.3C120.9 269.1 119.7 265.7 118.4 262.3C116.6 257.6 115 252.9 113.3 248.2C111.7 243.9 110.2 239.4 108.3 235.2C106.8 231.8 106.2 227.2 103.3 225.1C102.1 224.2 100.4 223.1 98.9 223.1C97.3 223.1 95.6 224.2 94.2 225.1C92.1 226.5 90.7 229 89.2 231.1C87.1 234.2 85.7 237.8 84.2 241.2C82.2 245.7 80.6 250.5 79.2 255.2C77.4 261.3 76.1 267.7 75 274C74.4 277.6 74 281.3 73.4 285C73.2 286.4 72.9 287.7 72.7 289.1C71.8 295 71.4 301.1 71.1 307.1C70.7 313.8 70.8 320.5 70.7 327.2C70.6 335.6 70.7 344.1 70.7 352.5Z" fill="#9999ff"/>
<path d="M55.5 352.5C56 346.1 56.5 339.7 57.1 333.3C57.8 325.9 58.4 318.5 59.5 311.2C60.5 304.5 61.7 297.7 63.1 291.1C63.5 289.1 64 287 64.5 285C65.4 281.2 66.3 277.3 67.3 273.5C68.7 268.4 70.4 263.3 72.1 258.3C73.7 253.6 75.3 248.8 77.2 244.2C79 239.8 80.7 235.2 83.2 231.1C84.9 228.3 86.8 225.3 89.2 223.1C90.7 221.7 92.3 220.3 94.2 219.5C95.8 218.9 97.7 218.3 99.3 218.5C101.1 218.7 102.9 220 104.3 221.1C106.5 222.8 107.8 225.7 109.3 228.1C111.2 231 112.7 234.1 114.3 237.2C116.1 240.5 117.7 243.9 119.4 247.2C121.1 250.6 122.4 254.1 124.4 257.3C125.9 259.7 127.3 262.5 129.4 264.3C131.1 265.7 133.1 266.9 135.2 267.7C137.5 268.5 140.1 268.6 142.5 268.9C145.4 269.2 148.4 269.1 151.3 269.3C154.2 269.6 157.2 270 160.1 270.4C163 270.9 166 271.4 168.9 272C171.9 272.6 174.8 273.3 177.7 274.1C180.7 274.9 183.6 275.8 186.5 276.7C189.4 277.6 192.4 278.6 195.3 279.5C198.2 280.4 201.2 281 204.1 282C206.6 282.8 209.1 284 211.6 284.8C213.7 285.5 215.8 286.4 217.9 286.7C220 287 222.1 286.8 224.2 286.9C226.3 287 228.4 287.2 230.5 287.6C232.1 287.9 233.8 288.4 235.3 289C237.5 289.9 239.3 291.5 241.4 292.6C243.4 293.7 245.4 295.1 247.6 295.8C249.6 296.5 251.9 296.4 253.9 297C256.1 297.6 258.1 298.7 260.2 299.5C261.9 300.1 263.6 300.4 265.2 301.2C266.8 302 268.1 304.1 269.6 304.2C271 304.3 272.5 302.5 274 302C275.6 301.5 277.4 301.3 279 301.4C280.7 301.5 282.4 302.7 284.1 302.9C285.9 303.1 287.7 302.4 289.5 302.6C291.4 302.8 293.2 304 295.1 304.4C296.8 304.8 298.9 304.4 300.4 305.2C301.7 305.9 302.6 307.3 303.6 308.5C304.8 310 305.6 313.5 306.8 313.4C307.8 313.3 308.7 310.6 310 309.8C311.3 308.9 313.1 308.5 314.7 308.3C316.8 308 319.5 307.9 321.3 308.9C322.6 309.6 323.3 311.2 324.5 312.2C325.7 313.2 327.1 314.9 328.4 314.8C329.5 314.7 330.7 313.2 331.7 312.2C333 310.9 333.8 309.1 335 307.6C335.8 306.5 336.6 304.7 337.6 304.4C338.9 304 340.7 305.6 342.2 306.3C343.5 306.9 345 307.4 346.1 308.3C347.1 309.2 347.7 311.5 348.7 311.5C349.5 311.5 350.4 310.1 351.3 309.6C352.5 309 353.9 308.8 355.2 308.3C357 307.6 358.7 306.6 360.4 305.7C361.7 305 363 303.3 364.1 303.5C365.2 303.7 366.1 305.8 367 307C368 308.4 368.3 311.1 369.6 311.5C370.6 311.8 372.2 310.5 373.5 310.2C374.8 309.9 376.3 309.2 377.4 309.6C378.4 310 379.2 312.1 380 312.2C381.3 312.4 382.3 309.1 383.4 307.6" fill="none" stroke="#0066ff" stroke-width="3.5" stroke-linejoin="round"/>
<path d="M113.3 282.4C115.3 281.1 117.3 279.7 119.4 278.4C121.4 277.2 123.3 275.9 125.4 274.9C127.3 273.9 129.3 273 131.4 272.3C133.7 271.5 136 271 138.4 270.7C140.6 270.4 142.8 270.3 145 270.2C147 270.1 149 270.1 151 270.2C154 270.3 157 270.6 160 270.9C163.4 271.3 166.7 271.8 170 272.5C173.4 273.2 176.7 274 180 275C183.4 276 186.7 277.1 190 278.4C191.9 279.1 193.7 279.9 195.5 280.8C197.4 281.7 199.2 282.8 201 283.9C202.8 285 204.6 286.2 206.4 287.4C208.3 288.7 210.1 290.1 211.9 291.4C213.7 292.7 215.5 293.9 217.3 295.2C219 296.5 220.8 297.7 222.4 299.1C224.1 300.5 225.7 302.1 227.3 303.5C229 305 230.6 306.4 232.3 307.8C234 309.3 235.8 310.7 237.4 312.3C239 313.8 240.4 315.5 242 317C243.6 318.6 245.2 320 246.8 321.6C248.4 323.2 249.9 324.9 251.4 326.6C252.9 328.2 254.4 329.8 255.8 331.4C257.3 333.1 258.7 335 260.2 336.7C261.6 338.3 263.2 339.9 264.6 341.5C266.1 343.3 267.6 345.1 269 346.9C270.2 348.4 271.4 350 272.6 351.5" fill="none" stroke="#000" stroke-width="1.5" stroke-dasharray="1.8 4.85" stroke-dashoffset="0"/>
<path d="M141.5 270.2C144.7 270.2 147.8 270.1 151 270.2C154 270.3 157 270.6 160 270.9C163.4 271.3 166.7 271.8 170 272.5C173.4 273.2 176.7 274.1 180 275C183.4 276 186.7 277.1 190 278.2C193.4 279.4 196.7 280.6 200 281.9C203.3 283.2 206.7 284.5 210 285.8C213.4 287.2 216.7 288.4 220 290C221.7 290.8 223.3 291.8 225 292.6C228.4 294.2 232.2 295.2 235.7 296.6C238.8 297.8 241.9 299.3 245.1 300.4C248.8 301.6 252.6 302.4 256.4 303.3C259.8 304.1 263.1 305.2 266.5 305.8C270.2 306.5 274 306.7 277.8 307C281.1 307.3 284.5 307.5 287.8 307.7C291.8 307.9 295.8 308.1 299.8 308.3C303.4 308.4 306.9 308.5 310.5 308.6C320.3 308.8 330.2 308.5 340 308.5C354.5 308.5 368.9 308.5 383.4 308.5" fill="none" stroke="#000" stroke-width="2.2" stroke-dasharray="12.9 9.2" stroke-dashoffset="1.5"/>
</g>
<g font-size="10.4">
<text x="49.8" y="365.6" text-anchor="middle">0</text>
<text x="86.9" y="365.6" text-anchor="middle">1</text>
<text x="124" y="365.6" text-anchor="middle">2</text>
<text x="161" y="365.6" text-anchor="middle">3</text>
<text x="198.1" y="365.6" text-anchor="middle">4</text>
<text x="235.2" y="365.6" text-anchor="middle">5</text>
<text x="272.3" y="365.6" text-anchor="middle">6</text>
<text x="309.3" y="365.6" text-anchor="middle">7</text>
<text x="346.4" y="365.6" text-anchor="middle">8</text>
<text x="383.5" y="365.6" text-anchor="middle">9</text>
<text x="26.6" y="214.5">10<tspan font-size="7.2" dy="-6.5" dx="0.9">11</tspan></text>
<text x="26.6" y="261.8">10<tspan font-size="7.2" dy="-6.5" dx="0.9">10</tspan></text>
<text x="26.6" y="309.1">10<tspan font-size="7.2" dy="-6.5" dx="0.9">9</tspan></text>
<text x="26.6" y="356.4">10<tspan font-size="7.2" dy="-6.5" dx="0.9">8</tspan></text>
</g>
<g font-size="17">
<text x="183" y="385">k</text>
<text x="195.5" y="385">[</text>
<text x="200.5" y="385">µ</text>
<text x="210.7" y="385">m</text>
<text x="226.4" y="378.7" font-size="11">−</text>
<text x="237.4" y="378.7" font-size="11">1</text>
<text x="245.2" y="385">]</text>
</g>
<text transform="translate(17 335.2) rotate(-90)" font-size="17">k</text>
<text transform="translate(11.1 326) rotate(-90)" font-size="11">4</text>
<text transform="translate(17 317.9) rotate(-90)" font-size="17">n</text>
<text transform="translate(22.2 308.5) rotate(-90)" font-size="13" textLength="10.9" lengthAdjust="spacingAndGlyphs">∞</text>
<text transform="translate(17 296.7) rotate(-90)" font-size="17">(</text>
<text transform="translate(17 290.3) rotate(-90)" font-size="17">k</text>
<text transform="translate(17 280.2) rotate(-90)" font-size="17">)</text>
<text transform="translate(17 265.2) rotate(-90)" font-size="17">[</text>
<text transform="translate(17 260) rotate(-90)" font-size="17">m</text>
<text transform="translate(12 246.4) rotate(-90)" font-size="12.5">−</text>
<text transform="translate(11.4 235.4) rotate(-90)" font-size="11">1</text>
<text transform="translate(17 227.4) rotate(-90)" font-size="17">]</text>
<rect x="261.3" y="221" width="111.2" height="60.3" fill="#fff" stroke="#4d4d4d" stroke-width="1"/>
<g font-size="15">
<text x="267.7" y="237.1">T</text>
<text x="277.1" y="239.5" font-size="11">a</text>
<text x="285.1" y="237.1" textLength="10.4" lengthAdjust="spacingAndGlyphs">=</text>
<text x="299.7" y="237.1" textLength="47.3" lengthAdjust="spacingAndGlyphs">257(3)</text>
<text x="348.8" y="237.1">nK</text>
<text x="266.6" y="257.4">k</text>
<text x="274.9" y="259.8" font-size="11">B</text>
<text x="286.2" y="257.4">T</text>
<text x="296.1" y="259.8" font-size="11">a</text>
<text x="304.8" y="257.4">/</text>
<text x="310.9" y="257.4">µ</text>
<text x="326.6" y="257.4" textLength="10.4" lengthAdjust="spacingAndGlyphs">=</text>
<text x="341.5" y="257.4" textLength="28.8" lengthAdjust="spacingAndGlyphs">1.24</text>
<text x="291.1" y="275.8">f</text>
<text x="296.5" y="278.2" font-size="11" textLength="10.6" lengthAdjust="spacingAndGlyphs">th</text>
<text x="311.1" y="275.8" textLength="10.4" lengthAdjust="spacingAndGlyphs">=</text>
<text x="325.7" y="275.8" textLength="28.8" lengthAdjust="spacingAndGlyphs">0.13</text>
</g>
</g>
<g>
<path d="M526.2 352.4V210.5M563.3 352.4V210.5M600.4 352.4V210.5M637.5 352.4V210.5M674.6 352.4V210.5M711.7 352.4V210.5M748.8 352.4V210.5M785.9 352.4V210.5M489.1 257.8H823M489.1 305.1H823" stroke="#606060" stroke-width="0.55" stroke-dasharray="1 3.4" fill="none"/>
<rect x="489.1" y="210.5" width="333.9" height="141.9" fill="none" stroke="#000" stroke-width="1"/>
<path d="M526.2 352.4v-3.3M526.2 210.5v3.3M563.3 352.4v-3.3M563.3 210.5v3.3M600.4 352.4v-3.3M600.4 210.5v3.3M637.5 352.4v-3.3M637.5 210.5v3.3M674.6 352.4v-3.3M674.6 210.5v3.3M711.7 352.4v-3.3M711.7 210.5v3.3M748.8 352.4v-3.3M748.8 210.5v3.3M785.9 352.4v-3.3M785.9 210.5v3.3M489.1 210.5h3.3M823 210.5h-3.3M489.1 243.6h1.9M823 243.6h-1.9M489.1 235.2h1.9M823 235.2h-1.9M489.1 229.3h1.9M823 229.3h-1.9M489.1 224.7h1.9M823 224.7h-1.9M489.1 221h1.9M823 221h-1.9M489.1 217.8h1.9M823 217.8h-1.9M489.1 215.1h1.9M823 215.1h-1.9M489.1 212.7h1.9M823 212.7h-1.9M489.1 257.8h3.3M823 257.8h-3.3M489.1 290.9h1.9M823 290.9h-1.9M489.1 282.5h1.9M823 282.5h-1.9M489.1 276.6h1.9M823 276.6h-1.9M489.1 272h1.9M823 272h-1.9M489.1 268.3h1.9M823 268.3h-1.9M489.1 265.1h1.9M823 265.1h-1.9M489.1 262.4h1.9M823 262.4h-1.9M489.1 260h1.9M823 260h-1.9M489.1 305.1h3.3M823 305.1h-3.3M489.1 338.2h1.9M823 338.2h-1.9M489.1 329.8h1.9M823 329.8h-1.9M489.1 323.9h1.9M823 323.9h-1.9M489.1 319.3h1.9M823 319.3h-1.9M489.1 315.6h1.9M823 315.6h-1.9M489.1 312.4h1.9M823 312.4h-1.9M489.1 309.7h1.9M823 309.7h-1.9M489.1 307.3h1.9M823 307.3h-1.9M489.1 352.4h3.3M823 352.4h-3.3" stroke="#000" stroke-width="0.65" fill="none"/>
<g clip-path="url(#c3)">
<path d="M492.6 352.5C493.1 344.1 493.2 335.6 494 327.2C494.6 320.5 495.4 313.8 496.5 307.1C497.5 301.1 498.9 295.1 500.1 289.1C500.4 287.7 500.6 286.4 500.9 285C501.7 281.3 502.8 277.7 503.8 274C505.4 268 506.8 261.9 509.1 256.2C510.8 252.1 512.5 247.8 515.1 244.2C516.9 241.7 518.7 238.9 521.2 237.2C523 236 525.1 235 527.2 234.5C529.1 234 531.2 233.9 533.2 234.1C535.6 234.3 538.3 235 540.3 236.2C542.3 237.4 543.8 239.4 545.3 241.2C547.6 243.9 549.4 247.2 551.3 250.2C553.4 253.5 555.1 257.1 557.4 260.3C558.9 262.4 560.4 264.8 562.4 266.3C563.9 267.4 565.6 268.5 567.4 268.9C569.2 269.3 571.2 268.9 573 268.7C575.4 268.4 577.6 267.5 580 267C582.6 266.6 585.3 266.3 588 266.1C590.7 265.9 593.3 265.8 596 265.8C598.7 265.8 601.3 266 604 266.2C606.7 266.4 609.3 266.8 612 267.2C614.7 267.6 617.3 268 620 268.5C622.7 269 625.4 269.5 628 270.2C630.4 270.8 632.7 271.5 635.1 272.2C639.3 273.4 643.6 274.2 647.7 275.6C652 277 656.1 278.8 660.3 280.6C663.6 282 666.8 283.4 670 285C673.4 286.7 676.5 289.3 680 290.7C683.2 292 686.8 292.3 690.1 293.2C693.5 294.1 696.8 295.4 700.2 296.3C703.5 297.2 706.9 297.8 710.2 298.8C712.7 299.5 715.3 300.2 717.7 301.3C720.4 302.6 722.7 304.8 725.3 306.4C727.8 307.9 730.3 309.4 732.8 310.8C735.3 312.2 737.7 314.3 740.4 314.9C742.8 315.5 745.5 315.3 747.9 314.9C750.5 314.4 752.9 312.9 755.4 312C757.1 311.4 758.8 310.8 760.5 310.4C763.2 309.8 766.1 310.4 768.9 310.1C771.5 309.8 774.2 309.3 776.7 308.5C779.4 307.6 781.8 305.6 784.6 305C787.1 304.4 789.9 304.2 792.4 304.6C795.1 305 797.6 306.6 800.2 307.7C803.4 309.1 806.3 311.6 809.6 312.4C812.1 313 814.9 313.1 817.5 312.9C819.5 312.7 821.4 312 823.4 311.6L823.4 346.2C822.2 344.8 821.1 343.3 819.7 342.1C818.8 341.3 817.8 339.9 816.7 339.8C815.8 339.7 814.6 340.7 813.7 341.3C812.5 342.2 811.5 343.4 810.7 344.7C809.9 345.9 809.7 347.6 808.9 348.8C807.8 350.3 805.9 351.3 804.4 352.5C802 352.5 799.7 352.5 797.3 352.5C796.8 350.8 796.3 349 795.8 347.3C795.3 345.5 795.2 343.4 794.3 341.8C793.5 340.4 791.9 339.4 790.7 338.2C789 336.5 787.6 334.6 785.7 333.2C784.4 332.3 783.1 331.1 781.6 330.9C780.3 330.7 778.9 331.6 777.6 331.6C776.2 331.6 774.9 330.9 773.5 330.6C771.8 330.3 770.1 329.5 768.5 329.8C767 330.1 765.7 331.2 764.4 332.1C762.9 333.1 761.6 334.4 760.4 335.7C758.9 337.5 757.9 339.7 756.8 341.8C755.9 343.4 755.7 345.8 754.3 346.8C753.6 347.3 752.6 347.5 751.8 347.8C750.9 346.6 750.1 345.5 749.2 344.3C747.8 342.4 746.5 340.6 745.2 338.7C743.9 336.8 742.8 334.8 741.5 333C740.3 331.4 739.2 329.7 737.8 328.3C736.3 326.9 734.6 325.6 732.8 324.6C730.5 323.4 727.8 322.9 725.3 322.1C722.8 321.2 720.1 320.7 717.7 319.5C715 318.1 712.7 315.8 710.2 313.9C707.7 312 705.3 309.9 702.7 308.2C700.3 306.6 697.7 305 695.1 303.8C692.3 302.5 689.3 301.6 686.3 300.7C683.4 299.8 680.2 299.5 677.5 298.2C674.8 297 672.7 294.5 670 293.2C669.3 292.8 668.5 292.6 667.8 292.2C665.2 290.9 662.9 288.9 660.3 287.5C656.3 285.4 651.9 284.3 647.7 282.5C643.5 280.7 639.5 278.1 635.1 276.8C632.8 276.1 630.4 275.9 628 275.4C625.3 274.8 622.7 274.2 620 273.7C617.3 273.2 614.7 272.8 612 272.4C609.3 272 606.7 271.6 604 271.4C601.3 271.2 598.7 271 596 271C593.3 271 590.7 271.1 588 271.3C585.3 271.5 582.7 271.9 580 272.2C577.7 272.6 575.3 273.1 573 273.3C571.1 273.5 569.3 273.5 567.4 273.6C565.7 273.7 564 273.5 562.4 273.9C560.6 274.3 559.1 275.5 557.4 276.3C556 275 554.5 273.7 553.3 272.3C551.3 269.9 549.9 267 548.3 264.3C546.5 261.3 545 258.2 543.3 255.2C541.6 252.2 540.4 248.8 538.3 246.2C536.8 244.4 535.3 241.6 533.2 241.2C531.7 240.9 529.6 241.5 528.2 242.2C526 243.3 524.6 246 523.2 248.2C520.8 251.8 519.6 256.2 518.2 260.3C516.6 265.1 515.7 270.1 514.6 275C513.8 278.6 513 282.3 512.5 286C512.4 287 512.2 288.1 512.1 289.1C511.3 295.1 510.2 301.1 509.5 307.1C508.8 313.8 508.4 320.5 508.1 327.2C507.7 335.6 507.7 344.1 507.5 352.5Z" fill="#9999ff"/>
<path d="M495.5 352.5C496 346.1 496.4 339.7 497.1 333.3C497.9 325.9 498.9 318.5 500.1 311.2C501.2 304.5 502.8 297.8 504.1 291.1C504.5 289.1 504.8 287 505.3 285C506.1 281.6 507.2 278.3 508.1 275C509.5 270.1 510.4 265.1 512.1 260.3C513.5 256.2 515 251.9 517.2 248.2C518.6 245.7 520.1 243.2 522.2 241.2C523.7 239.8 525.3 238.4 527.2 237.6C528.7 237 530.6 236.5 532.2 236.6C534 236.8 535.8 237.8 537.3 238.8C539.5 240.3 540.7 243 542.3 245.2C544.1 247.8 545.6 250.5 547.3 253.2C549 255.9 550.4 258.8 552.3 261.3C553.9 263.4 555.4 265.7 557.4 267.3C558.9 268.5 560.6 269.6 562.4 270.3C564.6 271.1 567.1 271.3 569.4 271.3C572.8 271.4 576.1 270.2 579.5 269.7C582.8 269.2 586.2 268.7 589.5 268.5C592.9 268.3 596.2 268.1 599.6 268.3C602.9 268.5 606.3 269 609.6 269.4C612.2 269.8 614.9 270.1 617.5 270.6C620.4 271.1 623.4 271.8 626.3 272.4C629.2 273 632.2 273.6 635.1 274.3C638 275 641.1 275.6 643.9 276.6C646.9 277.7 649.7 279.4 652.7 280.6C655.6 281.8 658.6 282.6 661.5 283.8C664 284.8 666.6 285.8 669 287.2C671.6 288.7 673.6 291.2 676.3 292.6C678.3 293.6 680.4 294.6 682.6 295C684.6 295.3 686.8 294.5 688.8 294.9C691 295.4 692.9 297.2 695.1 298.2C697.2 299.1 699.2 300.1 701.4 300.7C703.4 301.3 705.6 301.4 707.7 302C709 302.3 710.4 302.5 711.5 303.2C713.1 304.1 713.7 306.5 715.2 307.6C716.6 308.6 718.7 308.7 720.3 309.5C722.1 310.4 723.5 312.1 725.3 313C726.9 313.7 728.8 313.6 730.3 314.5C731.8 315.4 732.8 317.1 734.1 318.3C735.3 319.4 736.4 321.3 737.8 321.6C738.9 321.8 740.5 320.6 741.6 320.8C743.1 321.1 744.1 323.2 745.4 324.4C746.7 325.6 748.1 328.1 749.2 328.2C750.7 328.3 751.1 322.4 753.1 322C754.2 321.8 755.9 323 757 322.7C758.7 322.3 759.3 319.4 760.8 318C762 316.9 763.5 315.1 764.9 315C766.6 314.9 768 318.5 769.8 318.8C771.5 319.1 773.4 317.6 775.2 317.1C777.3 316.5 779.6 316.6 781.4 315.5C782.6 314.7 783.5 313.4 784.6 312.4C785.5 311.6 786.5 310.2 787.4 310.1C788.7 310 789.7 312.7 790.8 314C792.4 315.8 793.4 319.3 795.5 319.5C796.5 319.6 797.8 318.6 798.7 318.7C800.4 318.9 801.1 322 802.6 323.4C803.8 324.5 805.2 326.4 806.5 326.5C808 326.6 809.5 324.2 811.2 323.4C812.9 322.6 814.9 321.7 816.7 321.8C817.7 321.9 818.9 322.8 819.8 322.6C821.3 322.3 821.9 319.5 822.9 317.9" fill="none" stroke="#0066ff" stroke-width="3.5" stroke-linejoin="round"/>
<path d="M544.3 290.1C546 288.6 547.6 287 549.3 285.6C551.1 284.1 553 282.7 554.9 281.4C556.7 280.2 558.5 279.1 560.4 278C562.4 276.8 564.3 275.6 566.4 274.6C568.3 273.7 570.4 273 572.4 272.3C574.7 271.5 577.1 270.7 579.5 270.2C582.8 269.5 586.2 269.1 589.5 268.8C592.9 268.5 596.2 268.4 599.6 268.5C602.9 268.6 606.3 269 609.6 269.5C612.2 269.9 614.9 270.4 617.5 271C620.5 271.7 623.4 272.5 626.3 273.4C628.2 274 630.1 274.6 632 275.3C633.7 276 635.4 276.7 637 277.5C639 278.5 640.9 279.9 642.9 281C644.8 282.1 646.8 283 648.7 284.1C650.7 285.2 652.6 286.4 654.6 287.5C656.5 288.6 658.5 289.7 660.3 290.9C662.1 292.1 663.7 293.5 665.5 294.7C667.2 295.9 669 296.9 670.6 298.2C672.4 299.6 674 301.2 675.7 302.6C677.5 304.1 679.3 305.5 681.1 307C682.8 308.5 684.6 309.9 686.3 311.4C688 312.9 689.7 314.3 691.4 315.8C693 317.3 694.5 318.9 696.1 320.4C697.7 322 699.2 323.6 700.8 325.2C702.4 326.7 704 328.1 705.6 329.6C707.2 331.1 708.8 332.5 710.2 334.2C711.7 335.9 712.6 338.1 714.1 339.8C715.5 341.5 717.3 342.9 718.8 344.5C720.4 346.1 721.9 347.8 723.5 349.5" fill="none" stroke="#000" stroke-width="1.5" stroke-dasharray="1.8 4.85" stroke-dashoffset="0"/>
<path d="M569.4 271.5C572.8 271 576.1 270.5 579.5 270C582.8 269.6 586.2 269.1 589.5 268.8C592.9 268.5 596.2 268.4 599.6 268.5C602.9 268.6 606.3 269.2 609.6 269.5C611 269.6 612.4 269.7 613.8 269.9C617.6 270.3 621.3 270.8 625 271.6C628.4 272.4 631.7 273.5 635 274.6C638.7 275.8 642.4 277.2 646 278.7C649.1 280 652 281.6 655 283C658.8 284.8 662.8 286.2 666.5 288.2C669.4 289.8 672.1 291.9 675 293.5C678.4 295.3 682.3 296.4 685.7 298.2C688.7 299.8 691.4 302.1 694.5 303.6C698.1 305.4 702 306.6 705.8 308C708.9 309.2 712 310.3 715.2 311.4C718.9 312.6 722.7 314 726.5 314.8C729.8 315.5 733.2 315.8 736.6 316.2C740.6 316.7 744.5 317.1 748.5 317.4C751.9 317.6 755.2 317.7 758.6 317.9C762.6 318.1 766.5 318.3 770.5 318.4C777 318.6 783.5 318.4 790 318.4C801 318.4 812 318.4 823 318.4" fill="none" stroke="#000" stroke-width="2.2" stroke-dasharray="12.9 9.2" stroke-dashoffset="0"/>
</g>
<g font-size="10.4">
<text x="489.1" y="365.6" text-anchor="middle">0</text>
<text x="526.2" y="365.6" text-anchor="middle">1</text>
<text x="563.3" y="365.6" text-anchor="middle">2</text>
<text x="600.4" y="365.6" text-anchor="middle">3</text>
<text x="637.5" y="365.6" text-anchor="middle">4</text>
<text x="674.6" y="365.6" text-anchor="middle">5</text>
<text x="711.7" y="365.6" text-anchor="middle">6</text>
<text x="748.8" y="365.6" text-anchor="middle">7</text>
<text x="785.9" y="365.6" text-anchor="middle">8</text>
<text x="823" y="365.6" text-anchor="middle">9</text>
<text x="465.9" y="214.5">10<tspan font-size="7.2" dy="-6.5" dx="0.9">11</tspan></text>
<text x="465.9" y="261.8">10<tspan font-size="7.2" dy="-6.5" dx="0.9">10</tspan></text>
<text x="465.9" y="309.1">10<tspan font-size="7.2" dy="-6.5" dx="0.9">9</tspan></text>
<text x="465.9" y="356.4">10<tspan font-size="7.2" dy="-6.5" dx="0.9">8</tspan></text>
</g>
<g font-size="17">
<text x="622.4" y="385">k</text>
<text x="634.9" y="385">[</text>
<text x="639.9" y="385">µ</text>
<text x="650.1" y="385">m</text>
<text x="665.8" y="378.7" font-size="11">−</text>
<text x="676.8" y="378.7" font-size="11">1</text>
<text x="684.6" y="385">]</text>
</g>
<text transform="translate(453.2 336.5) rotate(-90)" font-size="17">k</text>
<text transform="translate(447.3 327.3) rotate(-90)" font-size="11">4</text>
<text transform="translate(453.2 319.2) rotate(-90)" font-size="17">n</text>
<text transform="translate(458.4 309.8) rotate(-90)" font-size="13" textLength="10.9" lengthAdjust="spacingAndGlyphs">∞</text>
<text transform="translate(453.2 298) rotate(-90)" font-size="17">(</text>
<text transform="translate(453.2 291.6) rotate(-90)" font-size="17">k</text>
<text transform="translate(453.2 281.5) rotate(-90)" font-size="17">)</text>
<text transform="translate(453.2 266.5) rotate(-90)" font-size="17">[</text>
<text transform="translate(453.2 261.3) rotate(-90)" font-size="17">m</text>
<text transform="translate(448.2 247.7) rotate(-90)" font-size="12.5">−</text>
<text transform="translate(447.6 236.7) rotate(-90)" font-size="11">1</text>
<text transform="translate(453.2 228.7) rotate(-90)" font-size="17">]</text>
<rect x="700.6" y="221" width="111.2" height="60.3" fill="#fff" stroke="#4d4d4d" stroke-width="1"/>
<g font-size="15">
<text x="707.2" y="237.1">T</text>
<text x="716.5" y="239.5" font-size="11">a</text>
<text x="725.9" y="237.1" textLength="10.4" lengthAdjust="spacingAndGlyphs">=</text>
<text x="741.2" y="237.1" textLength="43.4" lengthAdjust="spacingAndGlyphs">286(5)</text>
<text x="789.1" y="237.1">nK</text>
<text x="705.9" y="257.4">k</text>
<text x="714.2" y="259.8" font-size="11">B</text>
<text x="725.5" y="257.4">T</text>
<text x="735.4" y="259.8" font-size="11">a</text>
<text x="744.1" y="257.4">/</text>
<text x="750.2" y="257.4">µ</text>
<text x="765.9" y="257.4" textLength="10.4" lengthAdjust="spacingAndGlyphs">=</text>
<text x="780.8" y="257.4" textLength="28.8" lengthAdjust="spacingAndGlyphs">1.73</text>
<text x="724.6" y="275.8">f</text>
<text x="730" y="278.2" font-size="11" textLength="10.6" lengthAdjust="spacingAndGlyphs">th</text>
<text x="746.1" y="275.8" textLength="10.4" lengthAdjust="spacingAndGlyphs">=</text>
<text x="760.8" y="275.8" textLength="29.2" lengthAdjust="spacingAndGlyphs">0.28</text>
</g>
</g>
</svg>
</body></html>
